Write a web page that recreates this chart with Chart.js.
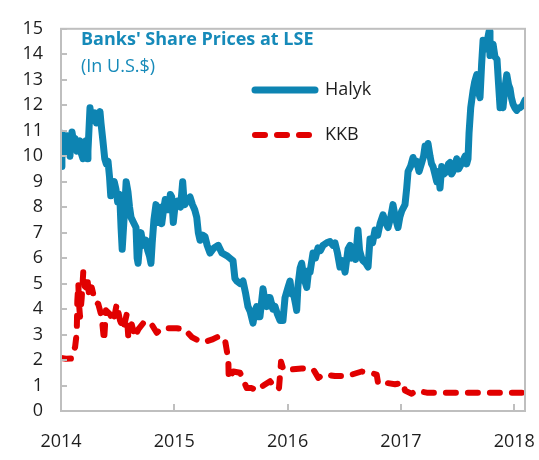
<!DOCTYPE html>
<html>
<head>
<meta charset="utf-8">
<title>Banks' Share Prices at LSE</title>
<script src="https://cdn.jsdelivr.net/npm/chart.js@4/dist/chart.umd.min.js"></script>
<style>
  html, body { margin: 0; padding: 0; background: #fff; }
</style>
</head>
<body>
<canvas id="chart" width="539" height="460"></canvas>
<script>
// Chart text
const titleText = "Banks' Share Prices at LSE";
const subtitleText = '(In U.S.$)';
const seriesNames = ['Halyk', 'KKB'];

// Axis ticks
const yearTicks = [2014, 2015, 2016, 2017, 2018];
const priceTicks = [0, 1, 2, 3, 4, 5, 6, 7, 8, 9, 10, 11, 12, 13, 14, 15];
const xRange = [2014, 2018.095];

// Halyk share price (dates as decimal years)
const halykDates = [
    2014.000, 2014.008, 2014.018, 2014.026, 2014.040, 2014.053, 2014.066, 2014.079, 2014.090, 2014.097,
    2014.110, 2014.124, 2014.141, 2014.155, 2014.168, 2014.180, 2014.194, 2014.208, 2014.221, 2014.232,
    2014.238, 2014.256, 2014.266, 2014.274, 2014.288, 2014.300, 2014.313, 2014.327, 2014.344, 2014.353,
    2014.370, 2014.386, 2014.400, 2014.415, 2014.428, 2014.439, 2014.455, 2014.470, 2014.485, 2014.500,
    2014.518, 2014.530, 2014.540, 2014.560, 2014.575, 2014.591, 2014.605, 2014.618, 2014.640, 2014.662,
    2014.672, 2014.680, 2014.695, 2014.706, 2014.725, 2014.750, 2014.765, 2014.780, 2014.794, 2014.805,
    2014.820, 2014.838, 2014.860, 2014.875, 2014.889, 2014.905, 2014.920, 2014.933, 2014.950, 2014.965,
    2014.977, 2014.991, 2015.010, 2015.035, 2015.055, 2015.074, 2015.085, 2015.094, 2015.115, 2015.139,
    2015.160, 2015.180, 2015.198, 2015.212, 2015.227, 2015.250, 2015.271, 2015.290, 2015.315, 2015.350,
    2015.388, 2015.420, 2015.462, 2015.490, 2015.518, 2015.535, 2015.551, 2015.580, 2015.606, 2015.630,
    2015.650, 2015.670, 2015.695, 2015.710, 2015.727, 2015.745, 2015.756, 2015.783, 2015.800, 2015.816,
    2015.830, 2015.845, 2015.870, 2015.889, 2015.910, 2015.933, 2015.959, 2015.977, 2016.000, 2016.021,
    2016.035, 2016.048, 2016.070, 2016.080, 2016.092, 2016.110, 2016.124, 2016.145, 2016.169, 2016.185,
    2016.198, 2016.224, 2016.245, 2016.268, 2016.290, 2016.312, 2016.345, 2016.374, 2016.400, 2016.418,
    2016.440, 2016.462, 2016.485, 2016.507, 2016.533, 2016.551, 2016.565, 2016.577, 2016.600, 2016.621,
    2016.635, 2016.654, 2016.665, 2016.690, 2016.710, 2016.727, 2016.750, 2016.771, 2016.795, 2016.816,
    2016.842, 2016.865, 2016.886, 2016.910, 2016.930, 2016.950, 2016.974, 2016.990, 2017.007, 2017.036,
    2017.051, 2017.063, 2017.085, 2017.107, 2017.125, 2017.139, 2017.160, 2017.184, 2017.200, 2017.213,
    2017.226, 2017.239, 2017.257, 2017.270, 2017.283, 2017.300, 2017.316, 2017.330, 2017.345, 2017.360,
    2017.380, 2017.404, 2017.420, 2017.433, 2017.447, 2017.460, 2017.475, 2017.492, 2017.510, 2017.522,
    2017.545, 2017.566, 2017.580, 2017.592, 2017.601, 2017.616, 2017.625, 2017.636, 2017.650, 2017.669,
    2017.680, 2017.698, 2017.712, 2017.725, 2017.745, 2017.765, 2017.778, 2017.786, 2017.800, 2017.813,
    2017.830, 2017.848, 2017.862, 2017.875, 2017.890, 2017.901, 2017.918, 2017.934, 2017.950, 2017.963,
    2017.975, 2017.989, 2018.005, 2018.022, 2018.040, 2018.051, 2018.075, 2018.095
];
const halykPrices = [
    9.6, 10.9, 10.2, 10.5, 10.1, 10.8, 10.3, 10.0, 10.8, 10.95,
    10.6, 10.7, 10.2, 10.5, 10.6, 10.1, 9.9, 10.3, 10.6, 9.9,
    10.2, 11.9, 11.5, 11.4, 11.6, 11.7, 11.3, 11.4, 11.75, 11.3,
    10.6, 9.9, 9.7, 9.8, 9.2, 8.45, 8.8, 9.0, 8.7, 8.2,
    8.5, 7.2, 6.35, 7.8, 9.0, 8.6, 8.0, 7.6, 7.4, 7.2,
    6.0, 5.8, 6.6, 7.0, 6.5, 6.7, 6.3, 6.1, 5.8, 6.6,
    7.5, 8.1, 7.4, 8.0, 7.35, 7.9, 8.3, 8.25, 7.9, 8.5,
    8.4, 7.4, 8.2, 8.25, 8.0, 9.0, 8.3, 8.1, 8.3, 8.4,
    8.1, 7.9, 7.6, 7.0, 6.7, 6.9, 6.85, 6.5, 6.2, 6.4,
    6.5, 6.2, 6.1, 6.0, 5.9, 5.2, 5.1, 5.0, 5.1, 4.6,
    4.1, 3.9, 3.45, 3.9, 4.1, 3.7, 3.7, 4.8, 4.3, 4.1,
    4.45, 4.45, 4.0, 4.1, 3.8, 3.55, 3.55, 4.45, 4.8, 5.1,
    4.6, 4.7, 4.2, 3.95, 4.95, 5.6, 5.8, 5.2, 4.85, 5.5,
    5.45, 6.2, 6.0, 6.4, 6.3, 6.5, 6.6, 6.65, 6.5, 6.6,
    6.2, 5.65, 5.9, 5.45, 6.35, 6.5, 6.0, 6.3, 5.95, 7.1,
    6.3, 6.0, 5.9, 5.8, 5.65, 6.75, 6.6, 7.1, 6.9, 7.35,
    7.7, 7.4, 7.2, 7.6, 8.1, 7.6, 7.2, 7.6, 7.85, 8.1,
    8.75, 9.4, 9.6, 9.95, 9.7, 9.8, 9.4, 9.75, 10.0, 10.4,
    10.3, 10.5, 10.0, 9.7, 9.6, 9.3, 9.0, 9.4, 8.75, 9.6,
    9.3, 9.4, 9.7, 9.75, 9.3, 9.4, 9.6, 9.9, 9.5, 9.6,
    9.8, 10.0, 9.7, 9.9, 10.9, 11.9, 12.2, 12.55, 12.9, 13.2,
    12.6, 12.3, 13.6, 14.55, 14.2, 14.6, 14.9, 13.95, 14.1, 14.4,
    13.9, 13.8, 12.8, 11.9, 12.2, 11.9, 12.7, 13.2, 12.8, 12.65,
    12.3, 12.05, 11.9, 11.8, 11.9, 11.9, 12.0, 12.2
];

// KKB share price (dates as decimal years)
const kkbDates = [
    2014.000, 2014.044, 2014.094, 2014.106, 2014.124, 2014.139, 2014.144, 2014.153, 2014.159, 2014.168,
    2014.183, 2014.197, 2014.208, 2014.221, 2014.232, 2014.250, 2014.271, 2014.300, 2014.329, 2014.359,
    2014.380, 2014.397, 2014.432, 2014.462, 2014.492, 2014.521, 2014.550, 2014.580, 2014.594, 2014.624,
    2014.653, 2014.682, 2014.726, 2014.786, 2014.845, 2014.889, 2015.021, 2015.094, 2015.154, 2015.198,
    2015.256, 2015.330, 2015.403, 2015.447, 2015.462, 2015.477, 2015.480, 2015.521, 2015.580, 2015.606,
    2015.639, 2015.683, 2015.727, 2015.786, 2015.845, 2015.874, 2015.904, 2015.924, 2015.942, 2015.962,
    2015.977, 2016.036, 2016.124, 2016.227, 2016.271, 2016.315, 2016.418, 2016.507, 2016.566, 2016.654,
    2016.727, 2016.786, 2016.798, 2016.816, 2016.875, 2016.948, 2017.021, 2017.036, 2017.095, 2017.139,
    2017.228, 2017.345, 2017.600, 2017.850, 2018.095
];
const kkbPrices = [
    2.08, 2.05, 2.06, 2.3, 2.5, 3.07, 4.33, 5.0, 4.2, 3.7,
    4.45, 5.5, 4.9, 4.85, 5.25, 4.45, 4.85, 4.3, 4.2, 3.7,
    2.75, 3.95, 3.8, 3.5, 4.2, 3.55, 3.2, 3.8, 2.9, 3.4,
    2.9, 3.2, 3.45, 3.5, 3.07, 3.25, 3.25, 3.2, 2.9, 2.8,
    2.7, 2.8, 2.95, 2.8, 2.4, 2.0, 1.25, 1.55, 1.5, 1.25,
    0.9, 0.9, 0.8, 1.0, 1.17, 1.0, 1.05, 0.9, 1.93, 1.63,
    1.63, 1.63, 1.67, 1.63, 1.3, 1.43, 1.37, 1.37, 1.43, 1.55,
    1.5, 1.43, 1.1, 1.17, 1.1, 1.05, 1.1, 0.8, 0.68, 0.8,
    0.72, 0.72, 0.72, 0.72, 0.72
];

const toPoints = (xs, ys) => xs.map((x, i) => ({x: x, y: ys[i]}));

const frameColor = '#bfbfbf';
const textColor = '#1e1e1e';
const fontFamily = "'Segoe UI', 'Open Sans', sans-serif";

// Box around the plot with short inward tick marks
const framePlugin = {
    id: 'frame',
    afterDraw(chart) {
        let ctx = chart.ctx;
        let a = chart.chartArea;
        let xs = chart.scales.x;
        let ys = chart.scales.y;
        ctx.save();
        ctx.strokeStyle = frameColor;
        ctx.lineWidth = 2;
        ctx.strokeRect(a.left, a.top, a.right - a.left, a.bottom - a.top);
        ctx.beginPath();
        priceTicks.forEach((v) => {
            let py = Math.round(ys.getPixelForValue(v));
            ctx.moveTo(a.left, py);
            ctx.lineTo(a.left + 6, py);
        });
        yearTicks.forEach((v) => {
            let px = Math.round(xs.getPixelForValue(v));
            ctx.moveTo(px, a.bottom);
            ctx.lineTo(px, a.bottom - 7);
        });
        ctx.stroke();
        ctx.restore();
    }
};

// Title and legend drawn inside the plot
const notesPlugin = {
    id: 'notes',
    afterDraw(chart) {
        let ctx = chart.ctx;
        ctx.save();
        ctx.textBaseline = 'middle';
        ctx.textAlign = 'left';
        ctx.fillStyle = '#168ab9';
        ctx.font = "bold 18px " + fontFamily;
        ctx.fillText(titleText, 81, 40);
        ctx.font = "18px " + fontFamily;
        ctx.fillText(subtitleText, 81, 67);

        let rows = [90, 135];
        chart.data.datasets.forEach((ds, i) => {
            let y = rows[i];
            ctx.strokeStyle = ds.borderColor;
            ctx.lineWidth = ds.borderWidth;
            ctx.lineCap = 'round';
            ctx.setLineDash(ds.borderDash || []);
            ctx.beginPath();
            ctx.moveTo(255, y);
            ctx.lineTo(315, y);
            ctx.stroke();
            ctx.setLineDash([]);
            ctx.fillStyle = textColor;
            ctx.font = "18px " + fontFamily;
            ctx.fillText(ds.label, 325, y);
        });
        ctx.restore();
    }
};

new Chart(document.getElementById('chart'), {
    type: 'line',
    data: {
        datasets: [
            {
                label: seriesNames[0],
                data: toPoints(halykDates, halykPrices),
                borderColor: '#0d84b2',
                borderWidth: 7,
                borderCapStyle: 'round',
                borderJoinStyle: 'round',
                pointRadius: 0,
                tension: 0
            },
            {
                label: seriesNames[1],
                data: toPoints(kkbDates, kkbPrices),
                borderColor: '#e10000',
                borderWidth: 6,
                borderDash: [10, 12],
                borderCapStyle: 'round',
                borderJoinStyle: 'round',
                pointRadius: 0,
                tension: 0
            }
        ]
    },
    options: {
        responsive: false,
        animation: false,
        layout: {
            padding: {left: 0, right: 14, top: 14, bottom: 0}
        },
        plugins: {
            legend: {display: false},
            tooltip: {enabled: false}
        },
        scales: {
            x: {
                type: 'linear',
                min: xRange[0],
                max: xRange[1],
                grid: {display: false, drawTicks: false},
                border: {display: false},
                afterBuildTicks: (scale) => {
                    scale.ticks = yearTicks.map((v) => ({value: v}));
                },
                afterFit: (scale) => {
                    scale.height = 49;
                    scale.paddingLeft = 0;
                    scale.paddingRight = 0;
                },
                ticks: {
                    padding: 20,
                    color: textColor,
                    font: {family: fontFamily, size: 18},
                    maxRotation: 0,
                    autoSkip: false,
                    callback: (value) => String(value)
                }
            },
            y: {
                min: 0,
                max: 15,
                grid: {display: false, drawTicks: false},
                border: {display: false},
                afterFit: (scale) => {
                    scale.width = 61;
                },
                ticks: {
                    stepSize: 1,
                    padding: 18,
                    color: textColor,
                    font: {family: fontFamily, size: 18}
                }
            }
        }
    },
    plugins: [framePlugin, notesPlugin]
});
</script>
</body>
</html>
